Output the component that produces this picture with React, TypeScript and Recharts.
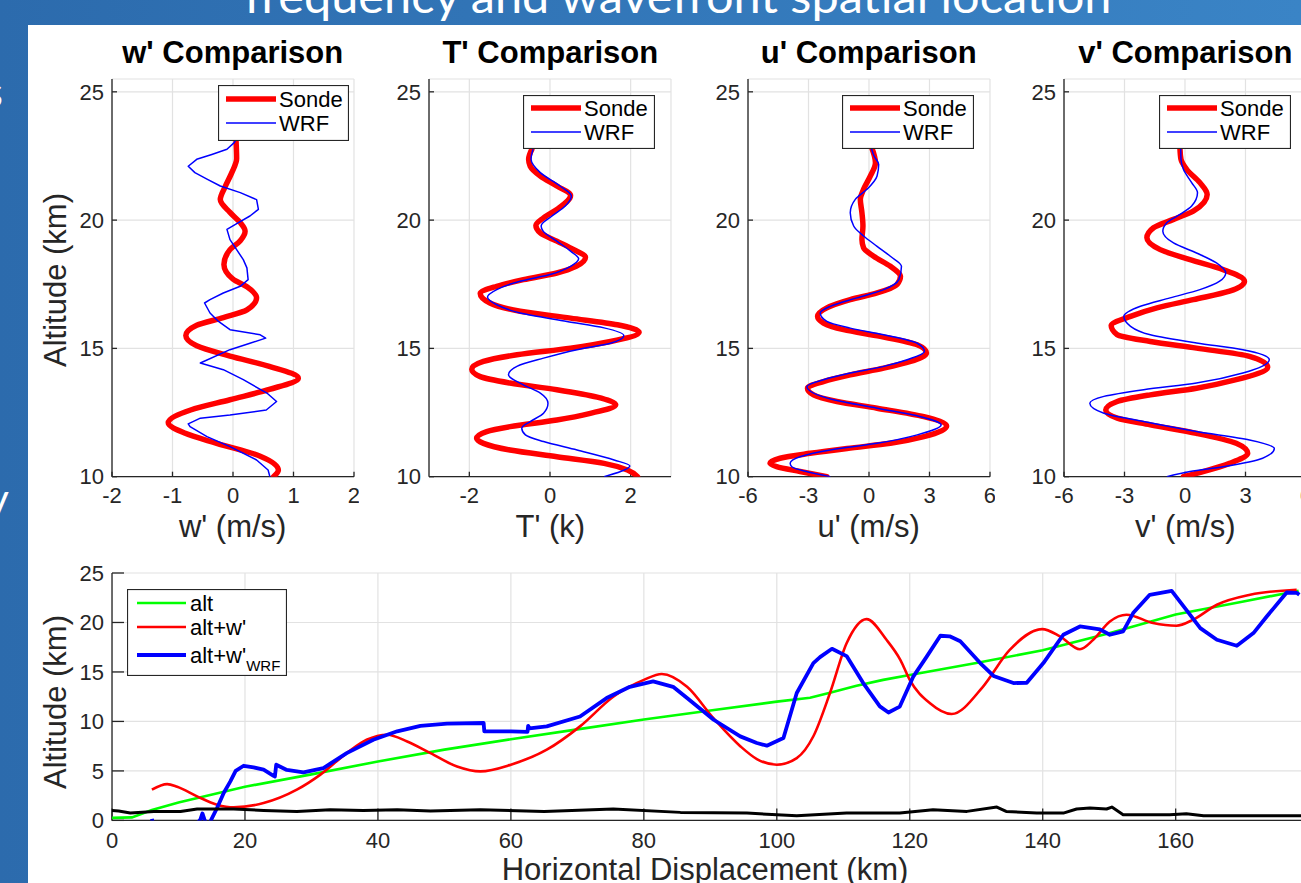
import React from 'react';
import { ScatterChart, Scatter, XAxis, YAxis, CartesianGrid, Legend } from 'recharts';

const AXIS = '#262626';
const GRID = '#e2e2e2';
const FONT = '"Liberation Sans", Arial, Helvetica, sans-serif';

// vertical profiles, rows are [altitude km, perturbation]
const wSonde = [
  [10.0, 0.67], [10.26, 0.75], [10.8, 0.45], [11.3, -0.27], [11.7, -0.8], [12.1, -1.07], [12.6, -0.7],
  [13.0, -0.05], [13.4, 0.6], [13.84, 1.08], [14.3, 0.6], [14.7, -0.05], [15.1, -0.6], [15.5, -0.78],
  [15.9, -0.6], [16.2, -0.16], [16.5, 0.23], [16.97, 0.39], [17.4, 0.23], [17.7, 0.0], [18.27, -0.15],
  [18.85, -0.05], [19.2, 0.12], [19.57, 0.2], [19.9, 0.12], [20.3, -0.05], [20.8, -0.21], [21.3, -0.13],
  [21.85, -0.02], [22.4, 0.06], [23.1, 0.05],
];
const wWrf = [
  [10.0, 0.61], [10.26, 0.58], [10.65, 0.39], [11.17, -0.05], [11.56, -0.43], [11.95, -0.71], [12.06, -0.74],
  [12.28, -0.54], [12.4, -0.05], [12.6, 0.55], [12.93, 0.72], [13.26, 0.56], [13.78, 0.17], [14.17, -0.16],
  [14.43, -0.54], [14.95, -0.05], [15.2, 0.28], [15.4, 0.54], [15.53, 0.45], [15.73, -0.05], [16.05, -0.24],
  [16.38, -0.38], [16.77, -0.47], [16.9, -0.38], [17.16, -0.16], [17.42, 0.12], [17.68, 0.25], [18.14, 0.23],
  [18.46, 0.17], [18.85, 0.06], [19.24, -0.05], [19.64, -0.1], [19.9, 0.09], [20.16, 0.28], [20.42, 0.42],
  [20.8, 0.39], [21.07, 0.12], [21.33, -0.21], [21.6, -0.43], [21.85, -0.63], [22.1, -0.74], [22.37, -0.6],
  [22.56, -0.35], [22.76, -0.1], [23.02, 0.02], [23.15, 0.05],
];
const tSonde = [
  [10.0, 2.17], [10.26, 1.92], [10.52, 1.34], [10.78, 0.17], [11.04, -0.99], [11.3, -1.65], [11.5, -1.82],
  [11.76, -1.57], [11.95, -0.99], [12.21, 0.17], [12.47, 1.0], [12.8, 1.63], [13.1, 1.17], [13.39, 0.17],
  [13.65, -0.99], [13.9, -1.73], [14.19, -1.94], [14.49, -1.65], [14.75, -0.82], [15.01, 0.51], [15.27, 1.5],
  [15.63, 2.21], [15.92, 1.67], [16.18, 0.51], [16.45, -0.74], [16.77, -1.49], [17.14, -1.73], [17.42, -1.32],
  [17.68, -0.66], [17.94, 0.17], [18.2, 0.65], [18.55, 0.88], [18.85, 0.59], [19.18, 0.17], [19.5, -0.24],
  [19.79, -0.35], [20.09, -0.16], [20.42, 0.17], [20.96, 0.51], [21.33, 0.17], [21.72, -0.24], [22.1, -0.49],
  [22.37, -0.53], [22.76, -0.45],
];
const tWrf = [
  [10.0, 1.34], [10.2, 1.75], [10.42, 1.98], [10.65, 1.59], [11.04, 0.67], [11.37, -0.16], [11.63, -0.61],
  [11.89, -0.7], [12.15, -0.49], [12.47, -0.16], [12.86, -0.05], [13.26, -0.24], [13.58, -0.66], [13.97, -1.03],
  [14.3, -0.82], [14.62, -0.16], [14.95, 0.67], [15.2, 1.5], [15.5, 1.83], [15.8, 1.34], [16.05, 0.42],
  [16.38, -0.74], [16.7, -1.32], [17.0, -1.55], [17.29, -1.32], [17.62, -0.74], [17.88, 0.0], [18.2, 0.51],
  [18.49, 0.71], [18.79, 0.51], [19.18, 0.17], [19.57, -0.17], [19.77, -0.22], [20.16, 0.05], [20.55, 0.38],
  [20.94, 0.53], [21.33, 0.25], [21.85, -0.24], [22.37, -0.47], [22.76, -0.42],
];
const uSonde = [
  [10.0, -2.09], [10.2, -3.42], [10.39, -4.58], [10.52, -4.91], [10.72, -4.41], [10.91, -2.92], [11.1, -1.09],
  [11.3, 1.06], [11.56, 2.72], [11.98, 3.85], [12.34, 2.72], [12.67, 0.4], [12.93, -1.59], [13.19, -2.75],
  [13.45, -3.05], [13.71, -2.26], [13.97, -0.93], [14.23, 0.73], [14.49, 2.06], [14.82, 2.85], [15.14, 2.39],
  [15.47, 0.56], [15.73, -1.26], [15.99, -2.26], [16.25, -2.55], [16.58, -2.09], [16.9, -0.93], [17.16, 0.4],
  [17.49, 1.39], [17.81, 1.56], [18.2, 1.06], [18.59, 0.23], [18.92, -0.27], [19.24, -0.35], [19.77, -0.3],
  [20.29, -0.35], [20.81, -0.43], [21.2, -0.27], [21.72, 0.07], [22.24, 0.32], [22.79, 0.15],
];
const uWrf = [
  [10.0, -1.92], [10.2, -3.1], [10.39, -3.83], [10.52, -3.91], [10.78, -3.42], [11.04, -1.92], [11.3, 0.4],
  [11.63, 2.39], [12.02, 3.58], [12.34, 2.56], [12.67, 0.4], [13.0, -1.76], [13.52, -3.08], [13.78, -2.26],
  [14.04, -0.93], [14.3, 0.73], [14.56, 1.89], [14.88, 2.75], [15.2, 2.39], [15.53, 0.73], [15.79, -0.93],
  [16.05, -2.09], [16.38, -2.42], [16.64, -1.92], [16.97, -0.6], [17.29, 0.73], [17.68, 1.48], [18.2, 1.61],
  [18.59, 1.06], [18.98, 0.4], [19.38, -0.27], [19.77, -0.76], [20.29, -0.93], [20.81, -0.68], [21.2, -0.1],
  [21.72, 0.4], [22.17, 0.48], [22.5, 0.25], [22.79, 0.12],
];
const vSonde = [
  [10.0, -0.08], [10.2, 0.9], [10.52, 2.21], [10.91, 3.11], [11.3, 2.54], [11.69, 0.57], [12.02, -1.72],
  [12.28, -3.36], [12.6, -3.93], [12.93, -3.36], [13.19, -1.72], [13.45, 0.57], [13.78, 2.54], [14.27, 4.1],
  [14.69, 3.2], [15.01, 0.57], [15.27, -1.72], [15.53, -3.36], [15.89, -3.66], [16.25, -2.7], [16.58, -1.39],
  [16.9, 0.41], [17.23, 2.21], [17.62, 2.95], [18.07, 1.89], [18.46, 0.25], [18.85, -1.23], [19.31, -1.89],
  [19.7, -1.56], [20.03, -0.57], [20.35, 0.41], [21.0, 1.1], [21.46, 0.74], [21.98, 0.08], [22.37, -0.2],
  [22.79, -0.25],
];
const vWrf = [
  [10.0, -0.9], [10.2, 0.25], [10.39, 1.89], [10.72, 3.85], [11.1, 4.43], [11.43, 3.2], [11.76, 0.57],
  [12.15, -2.05], [12.47, -4.02], [12.86, -4.72], [13.13, -4.02], [13.39, -2.05], [13.65, 0.57], [14.04, 2.87],
  [14.56, 4.18], [14.95, 2.87], [15.21, 0.57], [15.53, -1.72], [15.86, -2.7], [16.25, -3.03], [16.64, -2.21],
  [16.97, -0.74], [17.29, 0.74], [17.62, 1.72], [17.94, 2.02], [18.33, 1.56], [18.72, 0.57], [19.11, -0.57],
  [19.57, -1.1], [19.9, -0.9], [20.22, -0.25], [20.55, 0.33], [21.07, 0.62], [21.46, 0.33], [21.98, -0.08],
  [22.37, -0.2], [22.79, -0.21],
];

const altTicks = [10, 15, 20, 25];
const wTicks = [-2, -1, 0, 1, 2];
const tTicks = [-2, 0, 2];
const uTicks = [-6, -3, 0, 3, 6];
const vTicks = [-6, -3, 0, 3, 6];

// flight track, rows are [horizontal displacement km, altitude km]
const altLine = [
  [0, 0.25], [3, 0.3], [6, 1.05], [10, 1.8], [20, 3.4], [30, 4.65], [40, 5.95], [50, 7.15], [60, 8.2],
  [70, 9.2], [80, 10.2], [90, 11.1], [100, 12.0], [105, 12.4], [108, 12.9], [112, 13.6], [116, 14.2],
  [120, 14.7], [130, 15.9], [140, 17.2], [150, 18.9], [160, 20.8], [170, 22.1], [178.5, 23.2],
];
const altSonde = [
  [6.0, 3.1], [8.3, 3.67], [9.8, 3.4], [12.8, 2.43], [15.8, 1.59], [18.3, 1.32], [22.8, 1.75], [27.8, 3.1],
  [31.3, 4.6], [35.3, 6.8], [38.3, 8.15], [41.4, 8.66], [44.4, 7.98], [47.9, 6.8], [51.9, 5.45], [55.4, 4.95],
  [60, 5.63], [65.4, 7.14], [70.4, 9.5], [75.4, 12.5], [80, 14.2], [82.7, 14.79], [86.5, 13.5], [90.5, 10.3],
  [94.5, 7.5], [97, 6.2], [100, 5.63], [103, 6.3], [105.5, 8.5], [108, 12.87], [110.5, 17.9], [113.5, 20.34],
  [116.5, 18.25], [118.6, 16.2], [120, 14.2], [123, 11.86], [126.3, 10.75], [131, 13.5], [135, 17.2],
  [139.9, 19.33], [142.6, 18.6], [145.6, 17.3], [147.6, 18.25], [150.1, 20.1], [152.6, 20.78], [156.6, 19.94],
  [160.1, 19.67], [162.6, 20.27], [166.2, 21.79], [171.2, 22.8], [178.2, 23.31],
];
const altWrf = [
  [6.0, 0.15], [6.4, -1], [9, -2], [12, -1], [13.3, 0.1], [13.6, 0.7], [13.9, 0.1], [14.3, -0.5], [14.8, -0.1],
  [15.8, 1.25], [16.8, 2.77], [17.8, 3.94], [18.6, 5.0], [19.8, 5.52], [21.3, 5.35], [22.8, 5.12], [24.3, 4.5],
  [24.5, 4.44], [24.7, 5.63], [26.3, 5.1], [28.8, 4.85], [31.8, 5.29], [35.3, 6.8], [39.3, 8.15], [42.9, 9.0],
  [46.4, 9.56], [50.4, 9.77], [55.9, 9.84], [56.0, 9.0], [60, 9.0], [62.5, 8.95], [62.6, 9.56], [62.8, 9.3],
  [65.4, 9.5], [70.4, 10.5], [74.4, 12.36], [77.9, 13.5], [81.4, 14.04], [84.4, 13.5], [86.5, 12.36],
  [90.5, 10.17], [94.5, 8.49], [97, 7.82], [98.5, 7.55], [101, 8.32], [103, 12.87], [105.5, 15.9], [106.5, 16.5],
  [108.3, 17.34], [110.5, 16.6], [113, 13.88], [115.5, 11.52], [116.8, 10.9], [118.5, 11.5], [120.5, 14.5],
  [122.5, 16.5], [124.6, 18.66], [126, 18.6], [127.6, 18.1], [130.6, 15.9], [132.6, 14.6], [135.6, 13.88],
  [137.6, 13.9], [140.1, 15.9], [143.1, 18.76], [145.6, 19.6], [148.6, 19.3], [150.1, 18.76], [152.1, 19.1],
  [153.6, 20.95], [156.1, 22.8], [159.4, 23.2], [161.6, 21.28], [163.7, 19.43], [166.2, 18.25], [169.2, 17.65],
  [171.7, 18.93], [173.7, 20.6], [176.7, 23.03], [178.2, 23.0], [178.6, 22.8],
];
const ground = [
  [0, 1.01], [1, 0.95], [2.75, 0.74], [6.3, 0.9], [10.3, 0.9], [12.8, 1.15], [18.3, 1.15], [22.8, 1.01],
  [27.8, 0.9], [32.8, 1.08], [37.8, 1.01], [42.9, 1.08], [47.9, 0.95], [55.4, 1.08], [65, 0.91], [75.4, 1.15],
  [85.5, 0.81], [95.5, 0.74], [103, 0.47], [110.5, 0.74], [118.5, 0.74], [123.5, 1.08], [128.6, 0.91],
  [133.1, 1.35], [134.5, 0.91], [139.1, 0.74], [143.1, 0.74], [145.1, 1.15], [147.1, 1.25], [149.6, 1.15],
  [150.4, 1.35], [152.1, 0.58], [159.1, 0.58], [161.6, 0.68], [164.2, 0.47], [179, 0.47],
];
const distTicks = [0, 20, 40, 60, 80, 100, 120, 140, 160];
const trackAltTicks = [0, 5, 10, 15, 20, 25];

const asProfile = (rows: number[][]) => rows.map(([alt, v]) => ({ x: v, y: alt }));
const asTrack = (rows: number[][]) => rows.map(([d, a]) => ({ x: d, y: a }));
const noDot = () => <g />;

const tickStyle = { fill: AXIS, fontSize: 22, fontFamily: FONT };
const axisLine = { stroke: AXIS, strokeWidth: 1.3 };

type Row = { label: React.ReactNode; color: string; width: number; y: number };

function LegendBox({ w, h, rows, lineX, textX }: { w: number; h: number; rows: Row[]; lineX: number[]; textX: number }) {
  return (
    <svg width={w} height={h} style={{ display: 'block' }}>
      <rect x={0.5} y={0.5} width={w - 1} height={h - 1} fill="#fff" stroke={AXIS} strokeWidth={1.2} />
      {rows.map((r, i) => (
        <g key={i}>
          <line x1={lineX[0]} x2={lineX[1]} y1={r.y} y2={r.y} stroke={r.color} strokeWidth={r.width} />
          <text x={textX} y={r.y + 8} fontSize={22} fontFamily={FONT} fill="#000">{r.label}</text>
        </g>
      ))}
    </svg>
  );
}

const PLOT_TOP = 79;
const PLOT_H = 397.7;
const PLOT_W = 242;
const YW = 70;
const XH = 50;
const TOPPAD = 15;

const profiles = [
  { title: "w' Comparison", xLabel: "w' (m/s)", left: 111.7, domain: [-2, 2], ticks: wTicks, sonde: wSonde, wrf: wWrf, wrfJoint: 'linear', lg: { x: 218, y: 85, w: 131, h: 56, r1: 14, r2: 38 } },
  { title: "T' Comparison", xLabel: "T' (k)", left: 429.3, domain: [-3, 3], ticks: tTicks, sonde: tSonde, wrf: tWrf, wrfJoint: 'monotoneY', lg: { x: 523, y: 95, w: 132, h: 54, r1: 13, r2: 37 } },
  { title: "u' Comparison", xLabel: "u' (m/s)", left: 747.7, domain: [-6, 6], ticks: uTicks, sonde: uSonde, wrf: uWrf, wrfJoint: 'monotoneY', lg: { x: 842, y: 95, w: 132, h: 54, r1: 13, r2: 37 } },
  { title: "v' Comparison", xLabel: "v' (m/s)", left: 1064.3, domain: [-6, 6], ticks: vTicks, sonde: vSonde, wrf: vWrf, wrfJoint: 'monotoneY', lg: { x: 1159, y: 95, w: 132, h: 54, r1: 13, r2: 37 } },
];

function Profile({ p }: { p: (typeof profiles)[number] }) {
  const boxLeft = p.left - YW;
  const boxTop = PLOT_TOP - TOPPAD;
  return (
    <div style={{ position: 'absolute', left: boxLeft, top: boxTop }}>
      <ScatterChart width={YW + PLOT_W + 5} height={TOPPAD + PLOT_H + XH} margin={{ top: TOPPAD, right: 5, bottom: 0, left: 0 }}>
        <CartesianGrid stroke={GRID} strokeWidth={1.2} />
        <XAxis type="number" dataKey="x" domain={p.domain} ticks={p.ticks} interval={0} allowDataOverflow height={XH}
          tickSize={-5} tickMargin={16} tick={tickStyle} tickLine={axisLine} axisLine={axisLine} />
        <XAxis xAxisId="top" orientation="top" type="number" domain={p.domain} ticks={p.ticks} interval={0} allowDataOverflow
          height={0} tickSize={-5} tick={false} tickLine={axisLine} axisLine={axisLine} />
        <YAxis type="number" dataKey="y" domain={[10, 25.5]} ticks={altTicks} interval={0} allowDataOverflow width={YW}
          tickSize={-5} tickMargin={13} tick={tickStyle} tickLine={axisLine} axisLine={axisLine} />
        <YAxis yAxisId="right" orientation="right" type="number" domain={[10, 25.5]} ticks={altTicks} interval={0} allowDataOverflow
          width={0} tickSize={-5} tick={false} tickLine={axisLine} axisLine={axisLine} />
        <Scatter data={asProfile(p.sonde)} fill="#ff0000" shape={noDot} isAnimationActive={false}
          line={{ stroke: '#ff0000', strokeWidth: 5.5, strokeLinejoin: 'round', strokeLinecap: 'round' }} lineJointType="monotoneY" />
        <Scatter data={asProfile(p.wrf)} fill="#0000ff" shape={noDot} isAnimationActive={false}
          line={{ stroke: '#0000ff', strokeWidth: 1.5, strokeLinejoin: 'round' }} lineJointType={p.wrfJoint as any} />
        <Legend layout="vertical" align="center" verticalAlign="middle"
          wrapperStyle={{ left: p.lg.x - boxLeft, top: p.lg.y - boxTop, width: p.lg.w, height: p.lg.h }}
          content={() => (
            <LegendBox w={p.lg.w} h={p.lg.h} lineX={[8, 58]} textX={61}
              rows={[
                { label: 'Sonde', color: '#ff0000', width: 5.5, y: p.lg.r1 },
                { label: 'WRF', color: '#0000ff', width: 1.5, y: p.lg.r2 },
              ]} />
          )} />
      </ScatterChart>
    </div>
  );
}

const T_LEFT = 112;
const T_TOP = 573.3;
const T_W = 1190;
const T_H = 247.4;

function Track() {
  const boxLeft = T_LEFT - YW;
  const boxTop = T_TOP - TOPPAD;
  const bigTick = { stroke: AXIS, strokeWidth: 1.3 };
  return (
    <div style={{ position: 'absolute', left: boxLeft, top: boxTop }}>
      <ScatterChart width={YW + T_W + 5} height={TOPPAD + T_H + XH} margin={{ top: TOPPAD, right: 5, bottom: 0, left: 0 }}>
        <CartesianGrid stroke={GRID} strokeWidth={1.2} />
        <XAxis type="number" dataKey="x" domain={[0, 179]} ticks={distTicks} interval={0} allowDataOverflow height={XH}
          tickSize={-12} tickMargin={24} tick={tickStyle} tickLine={bigTick} axisLine={axisLine} />
        <XAxis xAxisId="top" orientation="top" type="number" domain={[0, 179]} ticks={distTicks} interval={0} allowDataOverflow
          height={0} tickSize={-12} tick={false} tickLine={bigTick} axisLine={axisLine} />
        <YAxis type="number" dataKey="y" domain={[0, 25]} ticks={trackAltTicks} interval={0} allowDataOverflow width={YW}
          tickSize={-12} tickMargin={20} tick={tickStyle} tickLine={bigTick} axisLine={axisLine} />
        <YAxis yAxisId="right" orientation="right" type="number" domain={[0, 25]} ticks={trackAltTicks} interval={0} allowDataOverflow
          width={0} tickSize={-12} tick={false} tickLine={bigTick} axisLine={axisLine} />
        <Scatter data={asTrack(altLine)} fill="#00ff00" shape={noDot} isAnimationActive={false}
          line={{ stroke: '#00ff00', strokeWidth: 2.6 }} lineJointType="linear" />
        <Scatter data={asTrack(altSonde)} fill="#ff0000" shape={noDot} isAnimationActive={false}
          line={{ stroke: '#ff0000', strokeWidth: 2.6 }} lineJointType="monotoneX" />
        <Scatter data={asTrack(altWrf)} fill="#0000ff" shape={noDot} isAnimationActive={false}
          line={{ stroke: '#0000ff', strokeWidth: 3.8, strokeLinejoin: 'round' }} lineJointType="linear" />
        <Scatter data={asTrack(ground)} fill="#000000" shape={noDot} isAnimationActive={false}
          line={{ stroke: '#000000', strokeWidth: 3, strokeLinejoin: 'round' }} lineJointType="linear" />
        <Legend layout="vertical" align="center" verticalAlign="middle"
          wrapperStyle={{ left: 127 - boxLeft, top: 589 - boxTop, width: 160, height: 87 }}
          content={() => (
            <LegendBox w={160} h={87} lineX={[10, 59]} textX={63}
              rows={[
                { label: 'alt', color: '#00ff00', width: 2.6, y: 14 },
                { label: "alt+w'", color: '#ff0000', width: 2.6, y: 38 },
                { label: (<><tspan>alt+w'</tspan><tspan fontSize={15} dy={8}>WRF</tspan></>), color: '#0000ff', width: 3.8, y: 66 },
              ]} />
          )} />
      </ScatterChart>
    </div>
  );
}

export default function App() {
  return (
    <div style={{ position: 'absolute', left: 0, top: 0, width: 1301, height: 883, overflow: 'hidden', background: 'linear-gradient(90deg, #2c6bad, #3a84c6)' }}>
      <div style={{ position: 'absolute', left: 28, top: 25, right: 0, bottom: 0, background: '#ffffff' }} />
      <svg width={1301} height={883} style={{ position: 'absolute', left: 0, top: 0 }}>
        <text x={678} y={13} textAnchor="middle" fontSize={46} fontFamily="Lato, 'Open Sans', sans-serif" fill="#ffffff"
          textLength={867} lengthAdjust="spacingAndGlyphs">frequency and wavefront spatial location</text>
        <text x={3} y={107} textAnchor="end" fontSize={42} fontFamily="Lato, sans-serif" fill="#ffffff">s</text>
        <text x={9} y={514} textAnchor="end" fontSize={42} fontFamily="Lato, sans-serif" fill="#ffffff">y</text>
      </svg>
      {profiles.map((p) => <Profile key={p.title} p={p} />)}
      <Track />
      <svg width={1301} height={883} style={{ position: 'absolute', left: 0, top: 0, pointerEvents: 'none' }}>
        {profiles.map((p) => (
          <g key={p.title}>
            <text x={p.left + PLOT_W / 2} y={63} textAnchor="middle" fontSize={31} fontWeight="bold" fontFamily={FONT} fill="#000">{p.title}</text>
            <text x={p.left + PLOT_W / 2} y={537} textAnchor="middle" fontSize={31} fontFamily={FONT} fill={AXIS}>{p.xLabel}</text>
          </g>
        ))}
        <text transform="translate(66,280) rotate(-90)" textAnchor="middle" fontSize={31} fontFamily={FONT} fill={AXIS}>Altitude (km)</text>
        <text transform="translate(66,702) rotate(-90)" textAnchor="middle" fontSize={31} fontFamily={FONT} fill={AXIS}>Altitude (km)</text>
        <text x={705} y={880} textAnchor="middle" fontSize={31} fontFamily={FONT} fill={AXIS}>Horizontal Displacement (km)</text>
      </svg>
    </div>
  );
}
